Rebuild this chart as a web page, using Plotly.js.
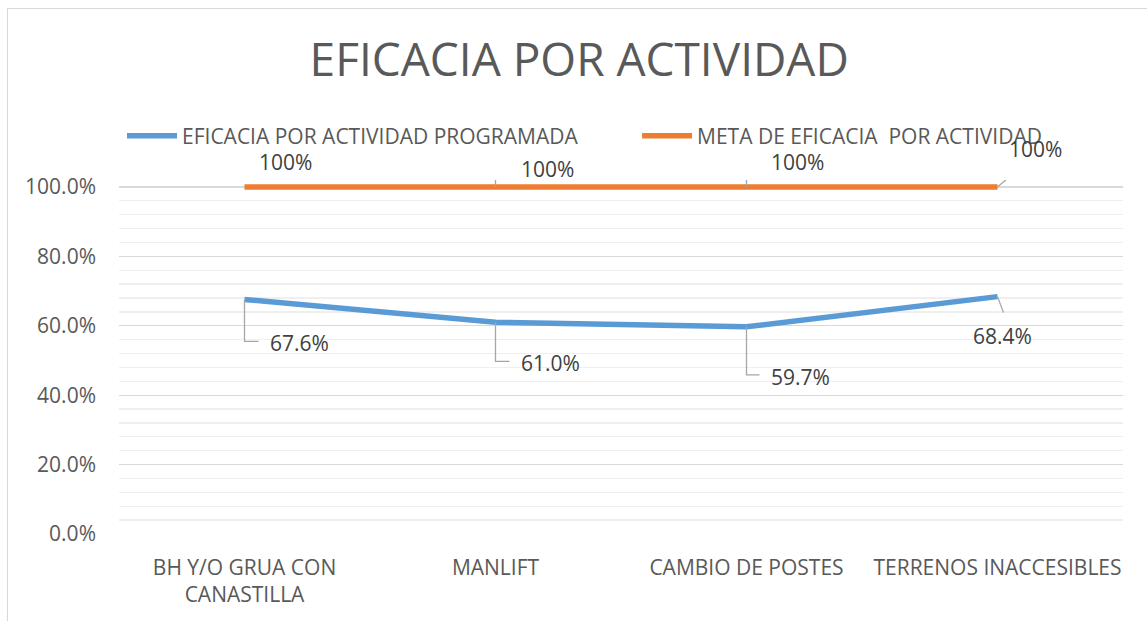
<!DOCTYPE html>
<html>
<head>
<meta charset="utf-8">
<script src="https://cdn.plot.ly/plotly-3.0.1.min.js"></script>
<style>
html,body{margin:0;padding:0;background:#fff;}
#wrap{position:relative;width:1147px;height:621px;overflow:hidden;}
#chart{position:absolute;left:0;top:0;width:1147px;height:621px;}
#frame{position:absolute;left:7px;top:8px;width:1200px;height:700px;border:1px solid #d9d9d9;pointer-events:none;}
</style>
</head>
<body>
<div id="wrap"><div id="chart"></div><div id="frame"></div></div>
<script>
const categories = ["BH Y/O GRUA CON<br>CANASTILLA", "MANLIFT", "CAMBIO DE POSTES", "TERRENOS INACCESIBLES"];
const eficacia = [0.676, 0.610, 0.597, 0.684];
const meta = [1.0, 1.0, 1.0, 1.0];
const seriesNames = ["EFICACIA POR ACTIVIDAD PROGRAMADA", "META DE EFICACIA  POR ACTIVIDAD"];
const titleText = "EFICACIA POR ACTIVIDAD";

const FONT = "Open Sans, sans-serif";
const grey = "#595959";
const labelColor = "#404040";

const traces = [
  {x: categories, y: eficacia, name: seriesNames[0], type: "scatter", mode: "lines",
   line: {color: "#5B9BD5", width: 5.5}, legend: "legend"},
  {x: categories, y: meta, name: seriesNames[1], type: "scatter", mode: "lines",
   line: {color: "#ED7D31", width: 5.5}, legend: "legend2"}
];

// label offsets (pixel) and leader-line paths, per point
const blueLab = [
  {xs: 23, ys: -44, xa: "left", path: "M0,0 V-42 H14"},
  {xs: 23, ys: -41, xa: "left", path: "M0,0 V-39 H14"},
  {xs: 22, ys: -50, xa: "left", path: "M0,0 V-48 H13"},
  {xs: 5, ys: -39, xa: "center", path: "M0,0 L6,-16"}
];
const orangeLab = [
  {xs: 41, ys: 25, xa: "center", path: null},
  {xs: 23, ys: 18, xa: "left", path: "M0,0 V19 H9"},
  {xs: 22, ys: 25, xa: "left", path: "M0,0 V24 H9"},
  {xs: 38, ys: 38, xa: "center", path: "M0,0 L32,27"}
];

const annotations = [];
const shapes = [];
function addLabels(vals, labs, fmt) {
  vals.forEach((v, i) => {
    const L = labs[i];
    annotations.push({x: categories[i], y: v, xref: "x", yref: "y", text: fmt(v),
      showarrow: false, xanchor: L.xa, yanchor: "middle", xshift: L.xs, yshift: L.ys,
      font: {family: FONT, size: 21, color: labelColor}});
    if (L.path) {
      shapes.push({type: "path", xref: "x", yref: "y", xsizemode: "pixel", ysizemode: "pixel",
        xanchor: categories[i], yanchor: v, path: L.path,
        line: {color: "#a6a6a6", width: 1.3}, layer: "above"});
    }
  });
}
addLabels(eficacia, blueLab, v => (v * 100).toFixed(1) + "%");
addLabels(meta, orangeLab, v => Math.round(v * 100) + "%");

const legendBase = {orientation: "h", xanchor: "left", y: 1.124, yanchor: "middle",
  font: {family: FONT, size: 21, color: grey}, itemwidth: 50, bgcolor: "rgba(0,0,0,0)"};

const layout = {
  width: 1147, height: 621,
  margin: {l: 119, r: 24, t: 180, b: 87, pad: 0},
  paper_bgcolor: "#ffffff", plot_bgcolor: "#ffffff",
  font: {family: FONT, color: grey},
  title: {text: titleText, font: {family: FONT, size: 46, color: grey},
    x: 0.505, xanchor: "center", y: 0.903, yanchor: "middle"},
  showlegend: true,
  legend: Object.assign({}, legendBase, {x: 0.003}),
  legend2: Object.assign({}, legendBase, {x: 0.516}),
  xaxis: {type: "category", showgrid: false, zeroline: false, showline: false, ticks: "",
    tickfont: {family: FONT, size: 21, color: grey}, range: [-0.5, 3.5], fixedrange: true,
    ticklabelstandoff: 19},
  yaxis: {range: [0, 1.02], dtick: 0.2, tick0: 0, tickformat: ".1%", showgrid: true,
    gridcolor: "#d9d9d9", gridwidth: 1.3, zeroline: false, showline: false, ticks: "",
    tickfont: {family: FONT, size: 21, color: grey}, ticklabelstandoff: 22,
    minor: {dtick: 0.04, tick0: 0, showgrid: true, gridcolor: "#efefef", gridwidth: 1.3},
    fixedrange: true},
  annotations: annotations,
  shapes: shapes
};

Plotly.newPlot("chart", traces, layout, {displayModeBar: false, staticPlot: true});
</script>
</body>
</html>
